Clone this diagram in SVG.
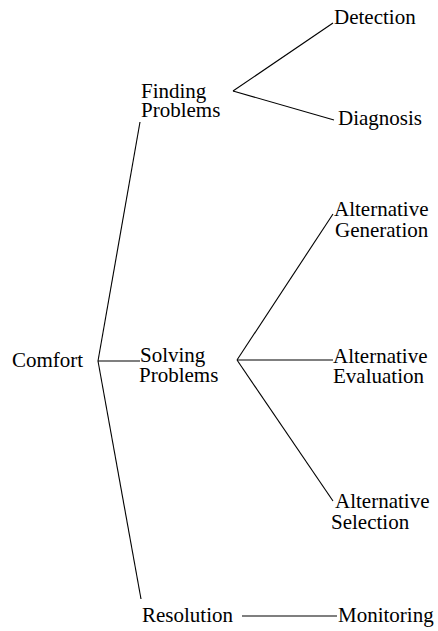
<svg xmlns="http://www.w3.org/2000/svg" width="438" height="631" viewBox="0 0 438 631">
<style>
text{font-family:"Liberation Serif","Times New Roman",serif;font-size:21px;fill:#000}
.c line{stroke:#000;stroke-width:1.1;fill:none}
</style>
<rect width="438" height="631" fill="#fff"/>
<g class="c" id="connectors">
<line x1="98" y1="361" x2="140" y2="122"/>
<line x1="98" y1="361" x2="140" y2="361"/>
<line x1="98" y1="361" x2="141" y2="599"/>
<line x1="233" y1="91" x2="333" y2="23"/>
<line x1="233" y1="91" x2="334" y2="120"/>
<line x1="237" y1="360" x2="333" y2="214"/>
<line x1="237" y1="360" x2="333" y2="360"/>
<line x1="237" y1="360" x2="333" y2="501"/>
<line x1="242" y1="616" x2="337" y2="616"/>
</g>
<g id="comfort"><text x="12" y="367">Comfort</text></g>
<g id="finding"><text x="141" y="98">Finding</text><text x="141" y="117">Problems</text></g>
<g id="solving"><text x="140" y="362">Solving</text><text x="139" y="382">Problems</text></g>
<g id="resolution"><text x="142" y="622">Resolution</text></g>
<g id="detection"><text x="334" y="24">Detection</text></g>
<g id="diagnosis"><text x="338" y="125">Diagnosis</text></g>
<g id="altgen"><text x="334" y="216">Alternative</text><text x="335" y="237">Generation</text></g>
<g id="alteval"><text x="333" y="363">Alternative</text><text x="333" y="383">Evaluation</text></g>
<g id="altsel"><text x="335" y="508">Alternative</text><text x="331" y="529">Selection</text></g>
<g id="monitoring"><text x="338" y="622">Monitoring</text></g>
</svg>
